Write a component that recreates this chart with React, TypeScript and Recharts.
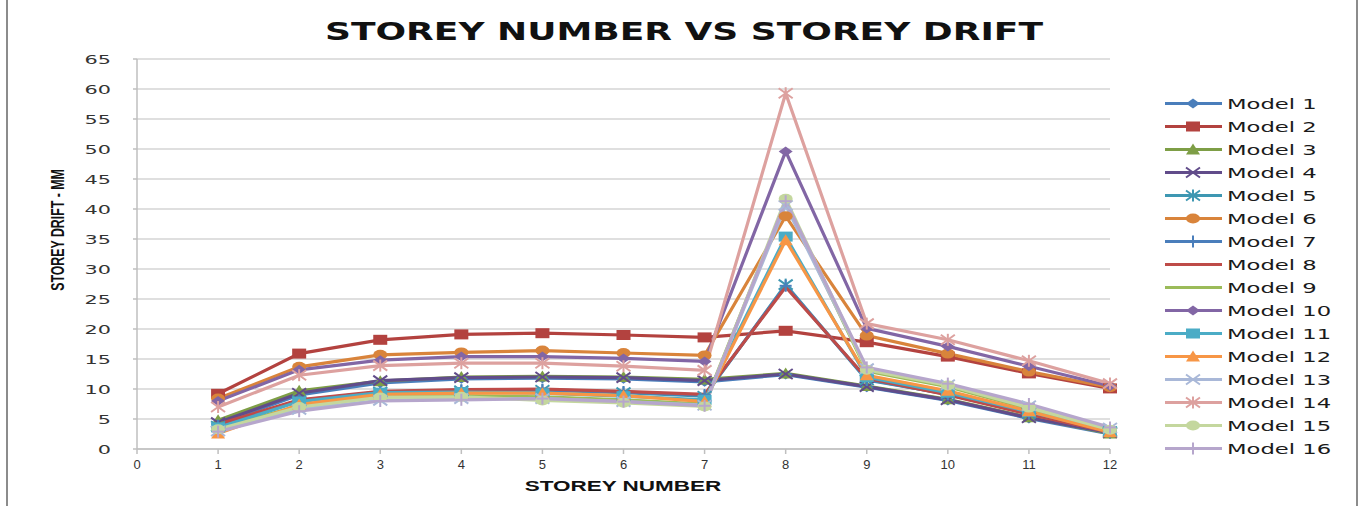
import { LineChart, Line, XAxis, YAxis, CartesianGrid, Legend } from "recharts";

// storey numbers on the x axis
const FLOORS = [1, 2, 3, 4, 5, 6, 7, 8, 9, 10, 11, 12];

// storey drift (mm) per model
const MODEL_1 = [4.2, 9.0, 11.0, 11.7, 11.8, 11.7, 11.2, 12.4, 10.3, 8.1, 5.1, 2.5];
const MODEL_2 = [9.2, 15.9, 18.2, 19.1, 19.3, 19.0, 18.6, 19.7, 17.8, 15.4, 12.6, 10.1];
const MODEL_3 = [4.8, 9.7, 11.3, 12.0, 12.1, 12.0, 11.6, 12.6, 10.5, 8.3, 5.3, 2.6];
const MODEL_4 = [4.4, 9.3, 11.4, 11.9, 12.0, 11.9, 11.4, 12.5, 10.4, 8.2, 5.2, 2.7];
const MODEL_5 = [3.8, 8.0, 9.5, 9.7, 9.8, 9.4, 8.8, 27.4, 11.5, 9.2, 6.0, 2.9];
const MODEL_6 = [8.4, 13.7, 15.7, 16.1, 16.4, 16.0, 15.6, 38.8, 18.9, 15.9, 12.9, 10.3];
const MODEL_7 = [3.9, 8.1, 9.5, 9.8, 9.9, 9.5, 9.0, 27.2, 11.6, 9.1, 5.9, 2.8];
const MODEL_8 = [4.1, 8.2, 9.6, 9.9, 10.0, 9.6, 9.1, 27.0, 11.8, 9.0, 5.8, 2.8];
const MODEL_9 = [3.4, 7.2, 8.8, 8.9, 8.7, 8.2, 7.5, 41.2, 13.0, 10.4, 6.7, 3.1];
const MODEL_10 = [8.0, 13.2, 14.8, 15.4, 15.4, 15.1, 14.6, 49.6, 20.1, 17.1, 13.8, 10.5];
const MODEL_11 = [3.6, 7.9, 9.4, 9.5, 9.3, 8.8, 8.2, 35.4, 12.0, 9.4, 6.2, 3.0];
const MODEL_12 = [2.6, 7.4, 9.1, 9.3, 9.3, 8.9, 7.9, 34.8, 12.3, 9.7, 6.3, 2.8];
const MODEL_13 = [3.0, 6.6, 8.1, 8.4, 8.4, 7.9, 7.3, 40.6, 13.4, 10.7, 7.2, 3.5];
const MODEL_14 = [7.0, 12.3, 13.9, 14.3, 14.3, 13.8, 13.1, 59.3, 20.9, 18.2, 14.7, 10.9];
const MODEL_15 = [3.3, 7.0, 8.6, 8.7, 8.1, 7.7, 7.1, 41.7, 13.2, 10.6, 6.9, 3.2];
const MODEL_16 = [2.9, 6.3, 8.0, 8.2, 8.4, 7.9, 7.2, 41.3, 13.6, 10.9, 7.5, 3.6];

const SERIES = [
  MODEL_1, MODEL_2, MODEL_3, MODEL_4, MODEL_5, MODEL_6, MODEL_7, MODEL_8,
  MODEL_9, MODEL_10, MODEL_11, MODEL_12, MODEL_13, MODEL_14, MODEL_15, MODEL_16,
];
const NAMES = SERIES.map((_, i) => `Model ${i + 1}`);

const X_TICKS = [0, 1, 2, 3, 4, 5, 6, 7, 8, 9, 10, 11, 12];
const Y_TICKS = [0, 5, 10, 15, 20, 25, 30, 35, 40, 45, 50, 55, 60, 65];

const COLORS = [
  "#4A7EBB", "#B3423F", "#7E9E46", "#614C8A",
  "#3E97B2", "#D9843B", "#4A7EBB", "#BE4B48",
  "#9BBB59", "#8266A5", "#4BACC6", "#F79646",
  "#A9B8D8", "#DDA19F", "#C4D79E", "#B6A6CC",
];

type Shape = "diamond" | "square" | "triangle" | "x" | "star" | "circle" | "plus" | "none";
const SHAPES: Shape[] = [
  "diamond", "square", "triangle", "x", "star", "circle", "plus", "none",
  "none", "diamond", "square", "triangle", "x", "star", "circle", "plus",
];

const data = FLOORS.map((floor, i) => {
  const row: Record<string, number> = { floor };
  SERIES.forEach((s, k) => {
    row[NAMES[k]] = s[i];
  });
  return row;
});

function Marker({ cx, cy, shape, color }: { cx: number; cy: number; shape: Shape; color: string }) {
  switch (shape) {
    case "diamond":
      return <polygon points={`${cx - 7},${cy} ${cx},${cy - 5} ${cx + 7},${cy} ${cx},${cy + 5}`} fill={color} />;
    case "square":
      return <rect x={cx - 7} y={cy - 5} width={14} height={10} fill={color} />;
    case "triangle":
      return <polygon points={`${cx - 7},${cy + 5} ${cx},${cy - 6} ${cx + 7},${cy + 5}`} fill={color} />;
    case "circle":
      return <ellipse cx={cx} cy={cy} rx={7} ry={5} fill={color} />;
    case "x":
      return (
        <g stroke={color} strokeWidth={2}>
          <line x1={cx - 7} y1={cy - 5} x2={cx + 7} y2={cy + 5} />
          <line x1={cx - 7} y1={cy + 5} x2={cx + 7} y2={cy - 5} />
        </g>
      );
    case "star":
      return (
        <g stroke={color} strokeWidth={2}>
          <line x1={cx - 7} y1={cy - 5} x2={cx + 7} y2={cy + 5} />
          <line x1={cx - 7} y1={cy + 5} x2={cx + 7} y2={cy - 5} />
          <line x1={cx} y1={cy - 6} x2={cx} y2={cy + 6} />
        </g>
      );
    case "plus":
      return (
        <g stroke={color} strokeWidth={2}>
          <line x1={cx} y1={cy - 6} x2={cx} y2={cy + 6} />
          <line x1={cx - 6} y1={cy} x2={cx + 6} y2={cy} />
        </g>
      );
    default:
      return null;
  }
}

function YTick(props: any) {
  const { x, y, payload } = props;
  return (
    <g transform={`translate(${x},${y})`}>
      <text transform="scale(1.6,1)" textAnchor="end" dy="0.35em" fontFamily="DejaVu Sans" fontSize={13} fill="#333">
        {payload.value}
      </text>
    </g>
  );
}

function XTick(props: any) {
  const { x, y, payload } = props;
  return (
    <text x={x} y={y} dy={11} textAnchor="middle" fontFamily="Liberation Sans" fontSize={13} fill="#333">
      {payload.value}
    </text>
  );
}

function LegendBox() {
  return (
    <div>
      {NAMES.map((name, i) => (
        <div key={name} style={{ display: "flex", alignItems: "center", height: 23 }}>
          <svg width={64} height={23}>
            <line x1={2} y1={11.5} x2={59} y2={11.5} stroke={COLORS[i]} strokeWidth={3} />
            <Marker cx={30} cy={11.5} shape={SHAPES[i]} color={COLORS[i]} />
          </svg>
          <span
            style={{
              fontFamily: "DejaVu Sans",
              fontSize: 14,
              color: "#1a1a1a",
              whiteSpace: "nowrap",
              display: "inline-block",
              transform: "scaleX(1.62)",
              transformOrigin: "left center",
            }}
          >
            {name}
          </span>
        </div>
      ))}
    </div>
  );
}

export default function App() {
  return (
    <div style={{ position: "fixed", left: 0, top: 0, width: 1364, height: 506, background: "#fff" }}>
      <div style={{ position: "absolute", left: 6, top: 0, width: 2, height: 506, background: "#8c8c8c" }} />
      <div style={{ position: "absolute", left: 1356, top: 0, width: 2, height: 506, background: "#8c8c8c" }} />
      <LineChart
        width={1364}
        height={506}
        data={data}
        margin={{ top: 59, right: 254, left: 0, bottom: 27 }}
      >
        <CartesianGrid vertical={false} stroke="#D4D4D4" strokeWidth={1.5} />
        <XAxis
          dataKey="floor"
          type="number"
          domain={[0, 12]}
          ticks={X_TICKS}
          interval={0}
          height={30}
          tickSize={5}
          tickMargin={4}
          stroke="#BFBFBF"
          strokeWidth={1.5}
          tick={<XTick />}
        />
        <YAxis
          domain={[0, 65]}
          ticks={Y_TICKS}
          interval={0}
          width={137}
          tickSize={4}
          tickMargin={22}
          stroke="#BFBFBF"
          strokeWidth={1.5}
          tick={<YTick />}
        />
        <Legend
          layout="vertical"
          align="center"
          verticalAlign="middle"
          wrapperStyle={{ left: 1163, top: 92, width: 200 }}
          content={() => <LegendBox />}
        />
        {NAMES.map((name, i) => (
          <Line
            key={name}
            dataKey={name}
            name={name}
            stroke={COLORS[i]}
            strokeWidth={3.2}
            isAnimationActive={false}
            activeDot={false}
            dot={(p: any) => (
              <Marker key={`${name}-${p.index}`} cx={p.cx} cy={p.cy} shape={SHAPES[i]} color={COLORS[i]} />
            )}
          />
        ))}
      </LineChart>
      <div
        style={{
          position: "absolute",
          left: 684,
          top: 32,
          transform: "translate(-50%, -50%) scaleX(1.5)",
          fontFamily: "DejaVu Sans",
          fontWeight: "bold",
          fontSize: 24,
          lineHeight: 1,
          whiteSpace: "nowrap",
          color: "#111",
        }}
      >
        STOREY NUMBER VS STOREY DRIFT
      </div>
      <div
        style={{
          position: "absolute",
          left: 623,
          top: 485,
          transform: "translate(-50%, -50%) scaleX(1.5)",
          fontFamily: "Liberation Sans",
          fontWeight: "bold",
          fontSize: 15,
          lineHeight: 1,
          whiteSpace: "nowrap",
          color: "#111",
        }}
      >
        STOREY NUMBER
      </div>
      <div
        style={{
          position: "absolute",
          left: 57,
          top: 230,
          transform: "translate(-50%, -50%) rotate(-90deg) scale(0.95, 1.45)",
          fontFamily: "Liberation Sans",
          fontWeight: "bold",
          fontSize: 13,
          lineHeight: 1,
          whiteSpace: "nowrap",
          color: "#111",
        }}
      >
        STOREY DRIFT - MM
      </div>
    </div>
  );
}
